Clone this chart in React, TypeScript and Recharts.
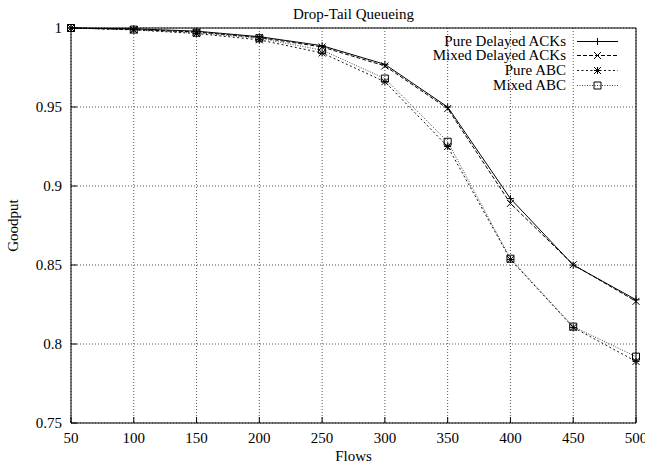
import { LineChart, Line, XAxis, YAxis, CartesianGrid, Label } from 'recharts'

const flows = [50, 100, 150, 200, 250, 300, 350, 400, 450, 500]
const pureDelayed = [1.0, 0.9995, 0.998, 0.9945, 0.9888, 0.977, 0.95, 0.892, 0.85, 0.828]
const mixedDelayed = [1.0, 0.999, 0.9975, 0.994, 0.988, 0.976, 0.949, 0.889, 0.8502, 0.827]
const pureAbc = [1.0, 0.9988, 0.9965, 0.9925, 0.9842, 0.966, 0.925, 0.8535, 0.8105, 0.789]
const mixedAbc = [1.0, 0.999, 0.997, 0.9935, 0.986, 0.968, 0.928, 0.854, 0.811, 0.792]
const xTicks = [50, 100, 150, 200, 250, 300, 350, 400, 450, 500]
const yTicks = [0.75, 0.8, 0.85, 0.9, 0.95, 1]

const data = flows.map((f, i) => ({
  flows: f,
  pureDelayed: pureDelayed[i],
  mixedDelayed: mixedDelayed[i],
  pureAbc: pureAbc[i],
  mixedAbc: mixedAbc[i],
}))

type MarkKind = 'plus' | 'cross' | 'star' | 'square'

const series: { key: string; name: string; dash?: string; color: string; mark: MarkKind }[] = [
  { key: 'mixedAbc', name: 'Mixed ABC', dash: '1 1.5', color: '#444', mark: 'square' },
  { key: 'pureAbc', name: 'Pure ABC', dash: '2 2.5', color: '#111', mark: 'star' },
  { key: 'mixedDelayed', name: 'Mixed Delayed ACKs', dash: '4 2', color: '#000', mark: 'cross' },
  { key: 'pureDelayed', name: 'Pure Delayed ACKs', color: '#000', mark: 'plus' },
]
const legendOrder = ['pureDelayed', 'mixedDelayed', 'pureAbc', 'mixedAbc']

const FONT = '"Liberation Serif", "Times New Roman", serif'
const FS = 15
const axisTick = { fill: '#000', fontSize: FS, fontFamily: FONT }

function Marker({ kind, cx, cy }: { kind: MarkKind; cx: number; cy: number }) {
  const s = 3.5
  const plus = `M${cx - s},${cy}H${cx + s}M${cx},${cy - s}V${cy + s}`
  const cross = `M${cx - s},${cy - s}L${cx + s},${cy + s}M${cx - s},${cy + s}L${cx + s},${cy - s}`
  let d = plus
  if (kind === 'cross') d = cross
  if (kind === 'star') d = plus + cross
  if (kind === 'square') d = `M${cx - s},${cy - s}H${cx + s}V${cy + s}H${cx - s}Z`
  return <path d={d} stroke="#000" strokeWidth={1} fill="none" />
}

function GoodputLabel({ viewBox }: any) {
  const x = viewBox.x + 15
  const y = viewBox.y + viewBox.height / 2
  return (
    <text
      x={x}
      y={y}
      transform={`rotate(-90, ${x}, ${y})`}
      textAnchor="middle"
      dominantBaseline="middle"
      fill="#000"
      fontSize={FS}
      fontFamily={FONT}
    >
      Goodput
    </text>
  )
}

export default function App() {
  return (
    <div style={{ position: 'absolute', left: 0, top: 0, width: 645, height: 464, fontFamily: FONT, background: '#fff' }}>
      <LineChart width={645} height={464} data={data} margin={{ top: 27, right: 8, bottom: 0, left: 0 }}>
        <CartesianGrid stroke="#555" strokeDasharray="1 2" />
        <XAxis
          dataKey="flows"
          type="number"
          domain={[50, 500]}
          ticks={xTicks}
          interval={0}
          height={41}
          tickSize={-6}
          tickMargin={15}
          tick={axisTick}
          axisLine={{ stroke: '#000' }}
          tickLine={{ stroke: '#000' }}
        >
          <Label value="Flows" position="insideBottom" offset={3} fill="#000" fontSize={FS} fontFamily={FONT} />
        </XAxis>
        <XAxis
          xAxisId="top"
          orientation="top"
          dataKey="flows"
          type="number"
          domain={[50, 500]}
          ticks={xTicks}
          interval={0}
          height={1}
          tickSize={-6}
          tick={false}
          axisLine={{ stroke: '#000' }}
          tickLine={{ stroke: '#000' }}
        />
        <YAxis
          type="number"
          domain={[0.75, 1]}
          ticks={yTicks}
          interval={0}
          width={71}
          tickSize={-6}
          tickMargin={15}
          tick={axisTick}
          tickFormatter={(v: number) => String(v)}
          axisLine={{ stroke: '#000' }}
          tickLine={{ stroke: '#000' }}
        >
          <Label content={<GoodputLabel />} />
        </YAxis>
        <YAxis
          yAxisId="right"
          orientation="right"
          type="number"
          domain={[0.75, 1]}
          ticks={yTicks}
          interval={0}
          width={1}
          tickSize={-6}
          tick={false}
          axisLine={{ stroke: '#000' }}
          tickLine={{ stroke: '#000' }}
        />
        {series.map((s) => (
          <Line
            key={s.key}
            dataKey={s.key}
            name={s.name}
            type="linear"
            stroke={s.color}
            strokeWidth={1}
            strokeDasharray={s.dash}
            isAnimationActive={false}
            dot={(p: any) => <Marker key={`${s.key}-${p.index}`} kind={s.mark} cx={p.cx} cy={p.cy} />}
            activeDot={false}
          />
        ))}
      </LineChart>

      {/* title */}
      <div style={{ position: 'absolute', top: 5.5, left: 71, width: 565, textAlign: 'center', fontSize: FS, lineHeight: '17px', color: '#000' }}>
        Drop-Tail Queueing
      </div>

      {/* key, gnuplot style: text right-aligned, sample to the right */}
      <div style={{ position: 'absolute', top: 33.5, left: 0, width: 645 }}>
        {legendOrder.map((k) => {
          const s = series.find((x) => x.key === k)!
          return (
            <div key={k} style={{ position: 'relative', height: 14.7, lineHeight: '15px', fontSize: FS, color: '#000' }}>
              <span style={{ position: 'absolute', right: 79, whiteSpace: 'nowrap' }}>{s.name}</span>
              <svg width={41} height={15} style={{ position: 'absolute', left: 577, top: 0 }}>
                <line x1={0} y1={7.5} x2={41} y2={7.5} stroke={s.color} strokeWidth={1} strokeDasharray={s.dash} />
                <Marker kind={s.mark} cx={20.5} cy={7.5} />
              </svg>
            </div>
          )
        })}
      </div>
    </div>
  )
}
